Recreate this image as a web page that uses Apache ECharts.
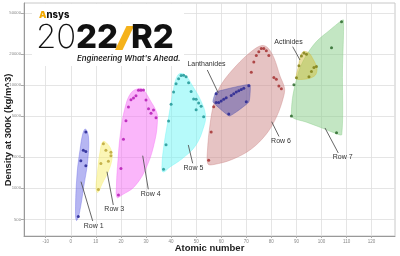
<!DOCTYPE html>
<html><head><meta charset="utf-8">
<script src="https://cdn.jsdelivr.net/npm/echarts@6/dist/echarts.min.js"></script>
<style>html,body{margin:0;padding:0;background:#fff}#c{width:400px;height:256px}</style>
</head><body><div id="c"></div>
<script>
// ---------- tick labels ----------
const xTicks = [-10,0,10,20,30,40,50,60,70,80,90,100,110,120];
const yTicks = [500,1000,2000,5000,10000,20000,50000];

// ---------- element points: atomic number / density (kg/m^3) ----------
const row1Z = [3,4,5,6,6,6];
const row1Density = [534,1848,2340,3515,2267,1650];
const row3Z = [11,12,13,14,15,16,16];
const row3Density = [971,1738,2700,2329,1823,2070,2230];
const row4Z = [19,20,21,22,23,24,25,26,27,28,29,30,31,32,33,34];
const row4Density = [862,1550,2985,4507,6110,7190,7470,7874,8900,8908,8960,7140,5904,5323,5727,4819];
const row5Z = [37,38,39,40,41,42,43,44,45,46,47,48,49,50,50,51,52,53];
const row5Density = [1532,2640,4472,6511,8570,10280,11500,12370,12410,12020,10490,8650,7310,7287,5769,6697,6240,4940];
const row6Z = [55,56,57,72,73,74,75,76,77,78,79,81,82,83,84];
const row6Density = [1873,3510,6162,13310,16690,19250,21020,22590,22560,21450,19300,11850,11340,9780,9196];
const lanthZ = [58,58,59,60,61,62,63,64,65,66,67,68,69,70,71];
const lanthDensity = [8240,6770,6773,7007,7260,7520,5244,7900,8230,8540,8795,9066,9321,6900,9841];
const actinZ = [90,91,92,93,94,95,96,97,98];
const actinDensity = [11720,15370,19050,20450,19816,12000,13510,14780,15100];
const row7Z = [88,89,104,106,108];
const row7Density = [5000,10070,23000,3450,41000];

// ---------- group outlines [atomic number, density] ----------
const row1Outline = [[5.86,3750],[7.06,3139],[6.78,1879],[5.27,1076],[3.27,551],[2.27,488],[1.87,590],[2.47,1345],[3.67,2349],[4.87,3430]];
const row3Outline = [[12.84,2838],[14.64,2685],[16.23,2296],[16.43,1921],[15.04,1471],[12.45,1101],[10.85,911],[10.05,985],[10.65,1438],[11.65,2246]];
const row4Outline = [[27.2,9250],[29.0,8945],[31.59,7158],[34.18,5479],[34.58,4584],[33.59,2935],[30.39,1644],[25.61,1053],[20.42,861],[18.43,815],[18.23,1076],[18.83,1879],[19.82,3430],[21.62,5988],[24.01,8369]];
const row5Outline = [[43.56,12920],[45.95,12220],[48.35,10000],[51.93,7000],[53.73,5124],[53.13,4010],[49.94,2626],[44.76,1965],[39.57,1608],[36.78,1438],[36.38,1681],[37.18,2626],[38.97,4791],[40.77,8555],[41.96,11430]];
const row6Outline = [[76.27,24120],[78.66,22810],[81.05,18250],[83.45,12220],[85.24,9354],[84.84,7652],[82.2,5000],[78.2,3400],[72.0,2400],[64.3,1900],[57.12,1700],[54.73,1719],[54.53,2349],[55.52,4101],[57.12,6695],[59.91,10000],[65.9,15270],[72.28,21340]];
const lanthOutline = [[57.92,8555],[71.45,10110],[71.05,6846],[63.3,5010],[56.72,6846]];
const actinOutline = [[92.82,21110],[95.01,20410],[96.61,17850],[98.2,14600],[97.61,12500],[95.01,11560],[90.63,11300],[89.83,11690],[90.83,15270],[91.62,19090]];
const row7Outline = [[108.78,42590],[108.38,13970],[108.1,3317],[105.78,3392],[100.2,3835],[93.82,4383],[88.43,4846],[88.03,5728],[88.63,8003],[89.83,10810],[91.42,14600],[94.02,19510],[98.0,26370],[103.39,34080],[107.78,41660]];

// ---------- annotation labels ----------
const annoText = ['Row 1','Row 3','Row 4','Row 5','Row 6','Row 7','Lanthanides','Actinides'];
const annoFrom = [[4.07,1159],[14.44,1448],[28.68,2068],[46.87,2626],[80.14,4412],[101.4,3835],[58.84,8369],[91.42,17460]];
const annoTo   = [[8.74,482],[16.95,689],[30.91,978],[48.62,1746],[83.05,3173],[106.7,2196],[54.45,13970],[88.51,23480]];
const annoAt   = [[9.13,432],[17.35,623],[31.87,881],[48.94,1555],[83.85,2870],[108.46,1987],[54.13,15970],[86.84,26090]];

const L = v => Math.log10(v);
const groups = [
  {name:'Row 1', z:row1Z, d:row1Density, outline:row1Outline, fill:[110,110,230], dot:'#1a1a8c', smooth:0.4},
  {name:'Row 3', z:row3Z, d:row3Density, outline:row3Outline, fill:[248,238,110], dot:'#b8a030', smooth:0.4},
  {name:'Row 4', z:row4Z, d:row4Density, outline:row4Outline, fill:[245,110,245], dot:'#b010b0', smooth:0.4},
  {name:'Row 5', z:row5Z, d:row5Density, outline:row5Outline, fill:[110,245,245], dot:'#189090', smooth:0.4},
  {name:'Row 6', z:row6Z, d:row6Density, outline:row6Outline, fill:[205,135,135], dot:'#a02828', smooth:0.35},
  {name:'Lanthanides', z:lanthZ, d:lanthDensity, outline:lanthOutline, fill:[80,80,170], dot:'#202090', smooth:0.1},
  {name:'Row 7', z:row7Z, d:row7Density, outline:row7Outline, fill:[135,205,135], dot:'#206020', smooth:0.3},
  {name:'Actinides', z:actinZ, d:actinDensity, outline:actinOutline, fill:[210,190,60], dot:'#7a7a10', smooth:0.3}
];

const series = [];
groups.forEach(g => {
  series.push({
    type:'custom', name:g.name+' area', silent:true, z:1,
    data: g.outline.map(p => [p[0], L(p[1])]),
    renderItem: (params, api) => {
      if (params.dataIndex !== 0) return null;
      const pts = g.outline.map(p => api.coord([p[0], L(p[1])]));
      const c = g.fill.join(',');
      return {type:'polygon', shape:{points:pts, smooth:g.smooth},
        style:{fill:'rgba('+c+',0.5)', stroke:'rgba('+c+',0.7)', lineWidth:0.6}};
    }
  });
});
groups.forEach(g => {
  series.push({
    type:'scatter', name:g.name, z:3, symbolSize:3,
    data: g.z.map((z,i) => [z, L(g.d[i])]),
    itemStyle:{color:g.dot}
  });
});
series.push({
  type:'custom', name:'labels', silent:true, z:12,
  data: annoText.map((t,i) => [annoFrom[i][0], L(annoFrom[i][1])]),
  renderItem: (params, api) => {
    const i = params.dataIndex;
    const a = api.coord([annoFrom[i][0], L(annoFrom[i][1])]);
    const b = api.coord([annoTo[i][0], L(annoTo[i][1])]);
    const c = api.coord([annoAt[i][0], L(annoAt[i][1])]);
    return {type:'group', children:[
      {type:'line', shape:{x1:a[0],y1:a[1],x2:b[0],y2:b[1]}, style:{stroke:'#555', lineWidth:0.9}},
      {type:'text', x:c[0], y:c[1], style:{text:annoText[i], fontSize:7, fontFamily:'Liberation Sans', fill:'#333', align:'center', verticalAlign:'middle'}}
    ]};
  }
});

const chart = echarts.init(document.getElementById('c'), null, {renderer:'canvas'});
chart.setOption({
  animation:false,
  backgroundColor:'#fff',
  grid:{left:24, right:5, top:3, bottom:20, show:true, borderColor:'#c8c8c8', borderWidth:1, containLabel:false, outerBoundsMode:'none'},
  xAxis:{
    type:'value', min:-18.67, max:129.33,
    axisLine:{show:true, onZero:false, lineStyle:{color:'#999', width:1}},
    axisTick:{show:true, customValues:xTicks, length:2, lineStyle:{color:'#aaa'}},
    axisLabel:{customValues:xTicks, fontSize:4.5, color:'#888', margin:3, fontFamily:'Liberation Sans'},
    splitLine:{show:true, customValues:xTicks, lineStyle:{color:'#dedede', width:0.8}},
    name:'Atomic number', nameLocation:'middle', nameGap:7, nameMoveOverlap:false,
    nameTextStyle:{fontWeight:'bold', fontSize:9.5, color:'#222', fontFamily:'Liberation Sans', verticalAlign:'top'}
  },
  yAxis:{
    type:'value', min:2.538, max:4.7938,
    axisLine:{show:true, onZero:false, lineStyle:{color:'#999', width:1}},
    axisTick:{show:true, customValues:yTicks.map(L), length:3, lineStyle:{color:'#aaa'}},
    axisLabel:{customValues:yTicks.map(L), fontSize:4.2, color:'#888', margin:3, fontFamily:'Liberation Sans',
      formatter: v => String(Math.round(Math.pow(10, v)))},
    splitLine:{show:true, customValues:yTicks.map(L), lineStyle:{color:'#dedede', width:0.8}}
  },
  graphic:[
    {type:'text', x:8.5, y:130, rotation:Math.PI/2, z:20,
      style:{text:'Density at 300K (kg/m^3)', fontSize:9.5, fontWeight:'bold', fontFamily:'Liberation Sans', fill:'#222', align:'center', verticalAlign:'middle'}},
    {type:'rect', shape:{x:32, y:4, width:152, height:62}, style:{fill:'#fff'}, z:10},
    {type:'text', x:39, y:15.5, z:11, style:{text:'{a|A}{b|nsys}', verticalAlign:'middle',
      rich:{a:{fontSize:9.5, fontWeight:900, fontFamily:'Inter', fill:'#f2a900'}, b:{fontSize:9.5, fontWeight:800, fontFamily:'Inter', fill:'#111'}}}},
    {type:'text', x:36, y:38.5, z:11, style:{text:'20', fontSize:33, fontWeight:200, fontFamily:'Inter', fill:'#111', verticalAlign:'middle'}},
    {type:'text', x:76, y:38.5, z:11, style:{text:'22', fontSize:33, fontWeight:800, fontFamily:'Inter', fill:'#111', verticalAlign:'middle'}},
    {type:'polygon', z:11, shape:{points:[[115,50],[122.5,50],[134,26],[126.5,26]]}, style:{fill:'#f5b21b'}},
    {type:'text', x:131, y:38.5, z:11, style:{text:'R2', fontSize:33, fontWeight:800, fontFamily:'Inter', fill:'#111', verticalAlign:'middle'}},
    {type:'text', x:77, y:58.5, z:11, style:{text:"Engineering What's Ahead.", fontSize:7.8, fontStyle:'italic', fontWeight:600, fontFamily:'Inter', fill:'#222', verticalAlign:'middle'}}
  ],
  series: series
});
</script></body></html>
